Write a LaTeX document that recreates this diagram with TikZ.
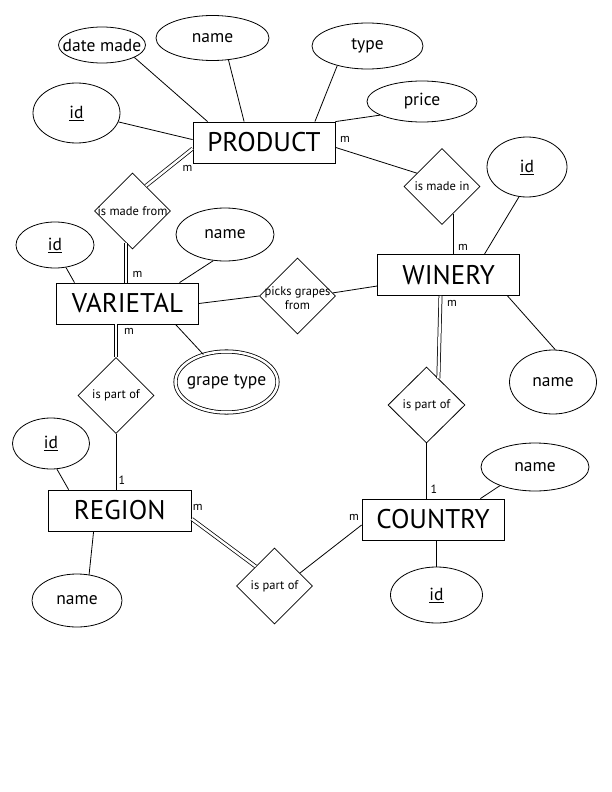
\documentclass[tikz,border=0pt]{standalone}
\usepackage{fontspec}
\setmainfont{PT Sans}
\usetikzlibrary{shapes.geometric}
\begin{document}
\begin{tikzpicture}[x=1pt,y=-1pt,line width=0.8pt,
  entity/.style={draw,rectangle,minimum width=142pt,minimum height=41pt,inner sep=0pt,font=\fontsize{27}{30}\selectfont},
  attr/.style={draw,ellipse,inner sep=0pt,font=\fontsize{17.5}{19}\selectfont},
  rel/.style={draw,diamond,minimum width=76pt,minimum height=76pt,inner sep=0pt,font=\fontsize{12.5}{13.5}\selectfont},
  card/.style={inner sep=0pt,font=\fontsize{12}{13}\selectfont},
  dbl/.style={double,double distance=2.4pt,line width=0.75pt}]
\useasboundingbox[fill=white] (0,0) rectangle (612,792);
% entities
\node[entity] (product) at (264,142.5) {PRODUCT};
\node[entity] (varietal) at (127.5,303.5) {VARIETAL};
\node[entity] (winery) at (448.6,275) {WINERY};
\node[entity,minimum width=143.4pt] (region) at (119.7,510.5) {REGION};
\node[entity] (country) at (433,519.5) {COUNTRY};
% relationships
\node[rel] (madefrom) at (132.5,211) {\makebox[0pt]{is made from}};
\node[rel] (madein) at (442,186.5) {\makebox[0pt]{is made in}};
\node[rel] (picks) at (297.5,296) {\makebox[0pt]{\raisebox{-7pt}[0pt][0pt]{\begin{tabular}{@{}c@{}}picks grapes\\from\end{tabular}}}};
\node[rel] (partL) at (116,395.5) {\makebox[0pt]{is part of}};
\node[rel,minimum width=77pt] (partR) at (426.5,405) {\makebox[0pt]{is part of}};
\node[rel] (partB) at (274.5,586) {\makebox[0pt]{is part of}};
% attributes
\node[attr,minimum width=87pt,minimum height=36pt] (pdate) at (102,45) {\makebox[0pt]{date made}};
\node[attr,minimum width=113pt,minimum height=45pt] (pname) at (212.5,38) {\makebox[0pt]{name}};
\node[attr,minimum width=111pt,minimum height=46pt] (ptype) at (367.5,46) {\makebox[0pt]{type}};
\node[attr,minimum width=110pt,minimum height=41pt] (pprice) at (422,101.5) {\makebox[0pt]{price}};
\node[attr,minimum width=87pt,minimum height=60pt] (pid) at (76.5,113) {\makebox[0pt]{\underline{id}}};
\node[attr,minimum width=80pt,minimum height=60pt] (wid) at (527,167) {\makebox[0pt]{\underline{id}}};
\node[attr,minimum width=78pt,minimum height=46pt] (vid) at (55,245) {\makebox[0pt]{\underline{id}}};
\node[attr,minimum width=98pt,minimum height=53pt] (vname) at (225,234.5) {\makebox[0pt]{name}};
\node[attr,double,double distance=2.5pt,minimum width=102pt,minimum height=61pt] (grape) at (226.5,382) {\makebox[0pt]{grape type}};
\node[attr,minimum width=87pt,minimum height=64pt] (wname) at (553,382) {\makebox[0pt]{name}};
\node[attr,minimum width=77pt,minimum height=51pt] (rid) at (51,443.5) {\makebox[0pt]{\underline{id}}};
\node[attr,minimum width=90pt,minimum height=53pt] (rname) at (77,600.5) {\makebox[0pt]{name}};
\node[attr,minimum width=108pt,minimum height=48pt] (cname) at (535,467) {\makebox[0pt]{name}};
\node[attr,minimum width=92pt,minimum height=56pt] (cid) at (436.5,595) {\makebox[0pt]{\underline{id}}};
% attribute links
\draw (pdate.-21) -- ([xshift=15pt]product.north west);
\draw (pname.-54) -- ([xshift=51.5pt]product.north west);
\draw (ptype.213) -- ([xshift=-20.5pt]product.north east);
\draw (pprice.198) -- (product.north east);
\draw (pid.-12) -- ([yshift=-18pt]product.north west);
\draw (wid.-105) -- ([xshift=-35.5pt]winery.north east);
\draw (vid.-64) -- ([xshift=18.4pt]varietal.north west);
\draw (vname.-114) -- ([xshift=-19.4pt]varietal.north east);
\draw ([xshift=-23.4pt]varietal.south east) -- (grape.130);
\draw ([xshift=-12.5pt]winery.south east) -- (wname.86);
\draw (rid.-77) -- ([xshift=21pt]region.north west);
\draw ([xshift=46pt]region.south west) -- (rname.65);
\draw ([xshift=-24pt]country.north east) -- (cname.208);
\draw (cid.north |- country.south) -- (cid.north);
% relationship links
\draw[dbl] ([yshift=-27pt]product.north west) -- (madefrom.62);
\draw ([yshift=16pt]product.south east) -- (madein.152.5);
\draw (madein.-68) -- (madein.-68 |- winery.north);
\draw[dbl] (madefrom.-102) -- (madefrom.-102 |- varietal.north);
\draw (varietal.east) -- (picks.west);
\draw (picks.5) -- ([yshift=-11pt]winery.west);
\draw[dbl] ([xshift=63.3pt]winery.south west) -- (partR.66);
\draw[dbl] (partL.north |- varietal.south) -- (partL.north);
\draw (partL.south) -- (partL.south |- region.north);
\draw[dbl] ([yshift=-8.5pt]region.east) -- (partB.134);
\draw (partB.27) -- ([yshift=-5.5pt]country.west);
\draw (partR.south) -- (partR.south |- country.north);
% cardinalities
\node[card] (c1) at (187.5,168) {m};
\node[card] (c2) at (345,139) {m};
\node[card] (c3) at (463,247) {m};
\node[card] (c4) at (137.5,274) {m};
\node[card] (c5) at (452,303) {m};
\node[card] (c6) at (129,331) {m};
\node[card] (c7) at (122,480) {1};
\node[card] (c8) at (197.7,507) {m};
\node[card] (c9) at (354,517) {m};
\node[card] (c10) at (434,489) {1};
\end{tikzpicture}
\end{document}
